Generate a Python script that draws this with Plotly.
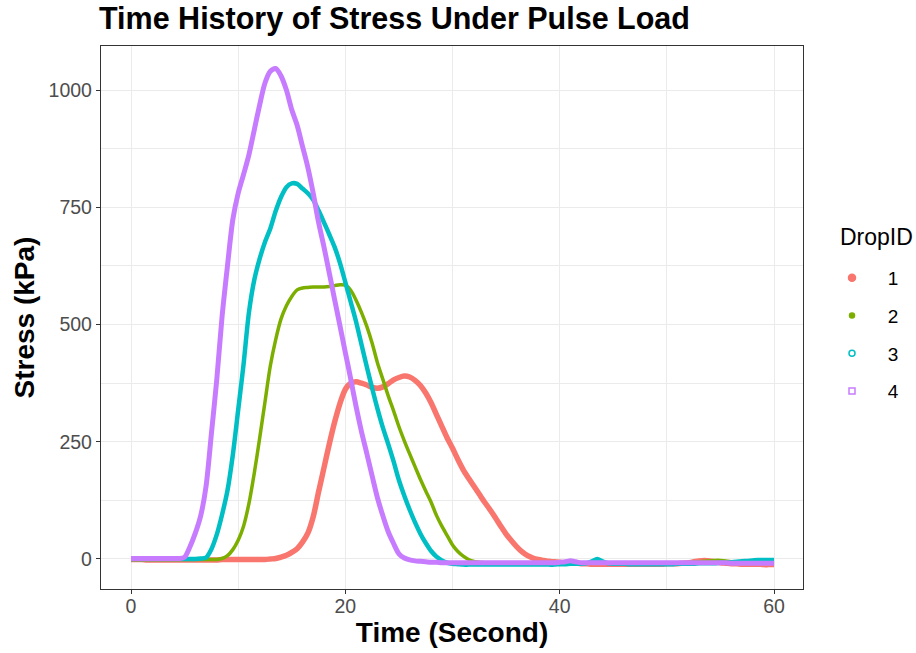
import plotly.graph_objects as go

# Stress readings (kPa) every 0.5 s from 0 to 60 s, one list per drop.
# Each row holds 5 seconds of readings.
DROP_1 = [
    -1, -1, -1, -2, -2, -2, -2, -2, -2, -2,
    -2, -2, -2, -2, -2, -2, -2, -1, -1, -1,
    -1, -1, -1, -1, -1, -1, 0, 1, 4, 8,
    14, 22, 36, 55, 90, 143, 194, 245, 292, 332,
    362, 375, 378, 375, 371, 366, 364, 367, 374, 382,
    387, 390, 388, 381, 370, 354, 333, 308, 283, 258,
    236, 212, 190, 172, 155, 138, 121, 105, 88, 70,
    53, 39, 26, 15, 7, 2, -1, -3, -5, -6,
    -7, -8, -6, -8, -10, -10, -11, -11, -11, -11,
    -11, -11, -11, -11, -11, -11, -11, -11, -11, -11,
    -10, -10, -10, -9, -8, -6, -4, -3, -4, -6,
    -8, -9, -10, -10, -11, -11, -11, -11, -12, -12,
    -12,
]
DROP_2 = [
    -1, -1, -1, -1, -1, -1, -1, -1, -1, -1,
    -1, -1, -1, -1, -1, -1, -1, 1, 7, 20,
    40, 70, 118, 183, 257, 335, 412, 468, 512, 540,
    560, 574, 578, 579, 580, 580, 580, 581, 583, 585,
    584, 573, 552, 526, 496, 460, 418, 383, 348, 316,
    282, 252, 224, 197, 170, 145, 121, 93, 70, 50,
    30, 16, 6, -1, -5, -7, -8, -9, -9, -9,
    -9, -9, -9, -9, -9, -9, -9, -9, -9, -9,
    -9, -8, -8, -9, -9, -9, -9, -9, -9, -9,
    -9, -9, -9, -9, -9, -9, -9, -9, -9, -9,
    -9, -9, -9, -9, -8, -7, -6, -5, -4, -3,
    -3, -4, -6, -8, -9, -9, -9, -9, -9, -9,
    -9,
]
DROP_3 = [
    0, 0, 0, 0, 0, 0, 0, 0, 0, 0,
    0, 0, 0, 1, 3, 21, 52, 95, 146, 222,
    318, 415, 525, 595, 640, 676, 705, 742, 772, 793,
    801, 800, 790, 780, 766, 743, 718, 692, 665, 631,
    590, 548, 506, 458, 410, 364, 320, 280, 245, 208,
    168, 135, 105, 78, 54, 34, 17, 5, -3, -8,
    -10, -11, -12, -12, -12, -12, -12, -12, -12, -12,
    -12, -12, -12, -12, -12, -12, -12, -12, -12, -12,
    -11, -11, -10, -10, -10, -9, -5, 0, -5, -9,
    -10, -10, -10, -11, -11, -11, -11, -11, -11, -11,
    -11, -11, -10, -10, -10, -10, -9, -9, -9, -9,
    -8, -8, -7, -6, -5, -4, -3, -2, -2, -2,
    -2,
]
DROP_4 = [
    1, 1, 1, 1, 1, 1, 1, 1, 1, 1,
    4, 26, 55, 92, 155, 267, 382, 518, 625, 724,
    780, 820, 862, 915, 968, 1015, 1040, 1046, 1030, 1000,
    958, 925, 880, 835, 780, 718, 666, 610, 553, 497,
    440, 384, 325, 272, 225, 177, 130, 92, 58, 33,
    11, 2, -2, -4, -5, -6, -7, -7, -8, -8,
    -8, -8, -8, -8, -8, -8, -8, -8, -8, -8,
    -8, -8, -8, -8, -8, -8, -8, -8, -8, -8,
    -7, -6, -4, -6, -8, -8, -8, -8, -8, -8,
    -8, -8, -8, -8, -8, -8, -8, -8, -8, -8,
    -8, -8, -8, -8, -8, -8, -8, -8, -8, -8,
    -8, -8, -9, -9, -9, -9, -9, -9, -9, -9,
    -9,
]

DROP_IDS = ["1", "2", "3", "4"]
SERIES = [DROP_1, DROP_2, DROP_3, DROP_4]
COLORS = ["#F8766D", "#7CAE00", "#00BFC4", "#C77CFF"]
BAND_WIDTH = [5.5, 3.5, 4.5, 5]
LEGEND_SYMBOL = ["circle", "circle", "circle-open", "square-open"]
LEGEND_SIZE = [7, 5, 6, 6]

FONT = "Liberation Sans, Arial, Helvetica, sans-serif"
NBSP = "\u00a0"

fig = go.Figure()

for drop, vals, color, width, sym, msize in zip(
    DROP_IDS, SERIES, COLORS, BAND_WIDTH, LEGEND_SYMBOL, LEGEND_SIZE
):
    time_s = [0.5 * i for i in range(len(vals))]
    fig.add_trace(
        go.Scatter(
            x=time_s,
            y=vals,
            mode="lines",
            line=dict(color=color, width=width, shape="spline", smoothing=0.8),
            legendgroup=drop,
            showlegend=False,
            hoverinfo="x+y",
        )
    )
    # legend key for this drop
    fig.add_trace(
        go.Scatter(
            x=[None],
            y=[None],
            mode="markers",
            name=NBSP * 3 + drop,
            marker=dict(
                color=color,
                size=msize,
                symbol=sym,
                line=dict(color=color, width=1.5),
            ),
            legendgroup=drop,
        )
    )

axis_common = dict(
    automargin=False,
    showgrid=True,
    gridcolor="#EBEBEB",
    gridwidth=1.3,
    zeroline=False,
    showline=True,
    mirror=True,
    linecolor="#333333",
    linewidth=1.3,
    ticks="outside",
    ticklen=4,
    tickwidth=1.1,
    tickcolor="#333333",
    tickfont=dict(family=FONT, size=19.5, color="#4D4D4D"),
)

fig.update_layout(
    width=916,
    height=653,
    paper_bgcolor="white",
    plot_bgcolor="white",
    margin=dict(l=101, r=113, t=46, b=64),
    title=dict(
        text="<b>Time History of Stress Under Pulse Load</b>",
        font=dict(family=FONT, size=30.5, color="black"),
        x=99 / 916,
        xref="container",
        xanchor="left",
        y=1 - 18 / 653,
        yref="container",
        yanchor="middle",
    ),
    xaxis=dict(
        range=[-2.8, 62.7],
        tickvals=[0, 20, 40, 60],
        ticklabelstandoff=-5,
        minor=dict(dtick=10, tick0=0, showgrid=True, gridcolor="#EBEBEB", gridwidth=0.7),
        title=dict(
            text="<b>Time (Second)</b>",
            font=dict(family=FONT, size=28, color="black"),
            standoff=4,
        ),
        **axis_common,
    ),
    yaxis=dict(
        range=[-64, 1094],
        tickvals=[0, 250, 500, 750, 1000],
        minor=dict(dtick=125, tick0=0, showgrid=True, gridcolor="#EBEBEB", gridwidth=0.7),
        title=dict(
            text="<b>Stress (kPa)</b>",
            font=dict(family=FONT, size=28, color="black"),
            standoff=5,
        ),
        **axis_common,
    ),
    legend=dict(
        font=dict(family=FONT, size=19, color="black"),
        xref="container",
        yref="container",
        x=832 / 916,
        xanchor="left",
        y=1 - 259 / 653,
        yanchor="top",
        tracegroupgap=10,
        bgcolor="rgba(0,0,0,0)",
    ),
    annotations=[
        dict(
            text="DropID",
            xref="paper",
            yref="paper",
            x=(838 - 101) / 702,
            y=(589 - 237) / 543,
            xanchor="left",
            yanchor="middle",
            showarrow=False,
            font=dict(family=FONT, size=23, color="black"),
        )
    ],
    showlegend=True,
)

fig.write_html("out.html")
